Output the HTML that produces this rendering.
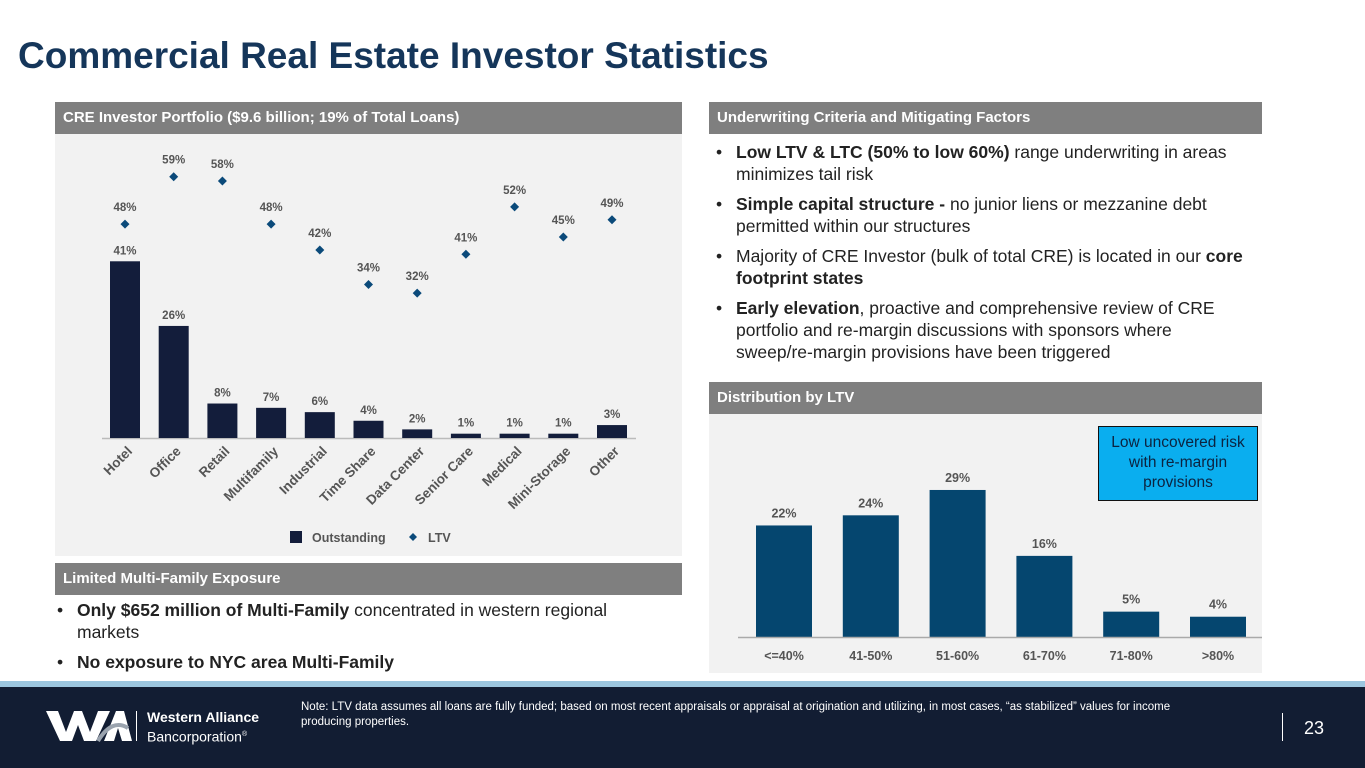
<!DOCTYPE html>
<html><head><meta charset="utf-8"><style>
*{margin:0;padding:0;box-sizing:border-box}
body{width:1365px;height:768px;background:#fff;font-family:"Liberation Sans",sans-serif;position:relative;overflow:hidden}
.abs{position:absolute}
.hdr{position:absolute;background:#7f7f7f;color:#fff;font-weight:bold;font-size:15px;line-height:32px;padding-left:8px;height:32px}
ul{list-style:none}
li{position:relative;padding-left:22px;color:#222;font-size:17.5px;line-height:22px;margin-bottom:8px}
li:before{content:"•";position:absolute;left:2px;top:0}
</style></head><body>
<div class="abs" style="left:18px;top:35px;font-size:37px;font-weight:bold;color:#15365a">Commercial Real Estate Investor Statistics</div>

<div class="hdr" style="left:55px;top:102px;width:627px">CRE Investor Portfolio ($9.6 billion; 19% of Total Loans)</div>
<div class="abs" style="left:55px;top:134px;width:627px;height:422px;background:#f2f2f2"></div>
<svg class="abs" style="left:0;top:0" width="700" height="560" id="c1"></svg>

<div class="hdr" style="left:55px;top:563px;width:627px">Limited Multi-Family Exposure</div>
<ul class="abs" style="left:55px;top:599px;width:580px">
<li><b>Only $652 million of Multi-Family</b> concentrated in western regional markets</li>
<li><b>No exposure to NYC area Multi-Family</b></li>
</ul>

<div class="hdr" style="left:709px;top:102px;width:553px">Underwriting Criteria and Mitigating Factors</div>
<ul class="abs" style="left:714px;top:141px;width:535px">
<li><b>Low LTV &amp; LTC (50% to low 60%)</b> range underwriting in areas minimizes tail risk</li>
<li><b>Simple capital structure -</b> no junior liens or mezzanine debt permitted within our structures</li>
<li>Majority of CRE Investor (bulk of total CRE) is located in our <b>core footprint states</b></li>
<li><b>Early elevation</b>, proactive and comprehensive review of CRE portfolio and re-margin discussions with sponsors where sweep/re&#8209;margin provisions have been triggered</li>
</ul>

<div class="hdr" style="left:709px;top:382px;width:553px">Distribution by LTV</div>
<div class="abs" style="left:709px;top:414px;width:553px;height:259px;background:#f2f2f2"></div>
<svg class="abs" style="left:0;top:0" width="1365" height="680" id="c2"></svg>
<div class="abs" style="left:1098px;top:426px;width:160px;height:75px;background:#0aaeef;border:1.5px solid #111;color:#0c2340;font-size:15.5px;line-height:20px;text-align:center;padding:6px 4px 0">Low uncovered risk with re-margin provisions</div>

<div class="abs" style="left:0;top:681px;width:1365px;height:6px;background:#9cc6df"></div>
<div class="abs" style="left:0;top:687px;width:1365px;height:81px;background:#121d33"></div>
<svg class="abs" style="left:46px;top:708px" width="86" height="36">
<polygon points="0,3 12,3 20,24 28,3 36,3 44,24 52,3 64,3 50,33 38,33 32,17 26,33 14,33" fill="#fff"/>
<polygon points="58,33 70,3 78,3 86,33 76,33 72,20 68,33" fill="#fff"/>
<path d="M52,33 Q66,10 82,20" stroke="#9aa3ae" stroke-width="4" fill="none"/>
</svg>
<div class="abs" style="left:136px;top:711px;width:1px;height:30px;background:#fff"></div>
<div class="abs" style="left:147px;top:709px;color:#fff;font-size:14px;line-height:17px"><b>Western Alliance</b><br>Bancorporation<sup style="font-size:7px">®</sup></div>
<div class="abs" style="left:301px;top:700px;width:905px;color:#fff;font-size:11.5px;line-height:15px">Note: LTV data assumes all loans are fully funded; based on most recent appraisals or appraisal at origination and utilizing, in most cases, “as stabilized” values for income producing properties.</div>
<div class="abs" style="left:1282px;top:713px;width:1px;height:28px;background:#fff"></div>
<div class="abs" style="left:1304px;top:718px;color:#fff;font-size:18px">23</div>

<script>
const cats1=["Hotel","Office","Retail","Multifamily","Industrial","Time Share","Data Center","Senior Care","Medical","Mini-Storage","Other"];
const outstanding=[41,26,8,7,6,4,2,1,1,1,3];
const ltv=[48,59,58,48,42,34,32,41,52,45,49];
const cats2=["<=40%","41-50%","51-60%","61-70%","71-80%",">80%"];
const dist=[22,24,29,16,5,4];
const NS="http://www.w3.org/2000/svg";
function mk(svg,tag,attrs,txt){const e=document.createElementNS(NS,tag);for(const k in attrs)e.setAttribute(k,attrs[k]);if(txt!==undefined)e.textContent=txt;svg.appendChild(e);return e;}
// chart 1
const s1=document.getElementById('c1');
const x1=i=>125+i*48.7, y1=v=>438-v*4.31;
mk(s1,'line',{x1:102,x2:636,y1:438.5,y2:438.5,stroke:'#bbb','stroke-width':1.5});
cats1.forEach((c,i)=>{
 const b=mk(s1,'rect',{x:x1(i)-15,y:y1(outstanding[i]),width:30,height:438-y1(outstanding[i]),fill:'#131d3b'});
 
 
 mk(s1,'text',{x:x1(i),y:y1(outstanding[i])-7,'text-anchor':'middle','font-size':11.5,'font-weight':'bold',fill:'#555'},outstanding[i]+'%');
 const yy=y1(ltv[i])-7;
 const d=mk(s1,'polygon',{points:`${x1(i)},${yy-4.5} ${x1(i)+4.5},${yy} ${x1(i)},${yy+4.5} ${x1(i)-4.5},${yy}`,fill:'#0b4a7a'});
 
 
 mk(s1,'text',{x:x1(i),y:yy-13,'text-anchor':'middle','font-size':11.5,'font-weight':'bold',fill:'#555'},ltv[i]+'%');
 const t=mk(s1,'text',{x:x1(i)+8,y:452,'text-anchor':'end','font-size':13.5,'font-weight':'bold',fill:'#555',transform:`rotate(-45 ${x1(i)+8} 452)`},c);
 
 
});
mk(s1,'rect',{x:290,y:531,width:12,height:12,fill:'#131d3b'});
mk(s1,'text',{x:312,y:542,'font-size':12.5,'font-weight':'bold',fill:'#555'},'Outstanding');
mk(s1,'polygon',{points:'413,533 417,537 413,541 409,537',fill:'#0b4a7a'});
mk(s1,'text',{x:428,y:542,'font-size':12.5,'font-weight':'bold',fill:'#555'},'LTV');
// chart 2
const s2=document.getElementById('c2');
const x2=i=>784+i*86.8, y2=v=>637-v*5.07;
cats2.forEach((c,i)=>{
 const b=mk(s2,'rect',{x:x2(i)-28,y:y2(dist[i]),width:56,height:637-y2(dist[i]),fill:'#05466f'});
 
 
 mk(s2,'text',{x:x2(i),y:y2(dist[i])-8,'text-anchor':'middle','font-size':12.5,'font-weight':'bold',fill:'#555'},dist[i]+'%');
 mk(s2,'text',{x:x2(i),y:660,'text-anchor':'middle','font-size':12.5,'font-weight':'bold',fill:'#555'},c);
});
mk(s2,'line',{x1:738,x2:1262,y1:637.5,y2:637.5,stroke:'#aaa','stroke-width':1.5});
</script>
</body></html>
